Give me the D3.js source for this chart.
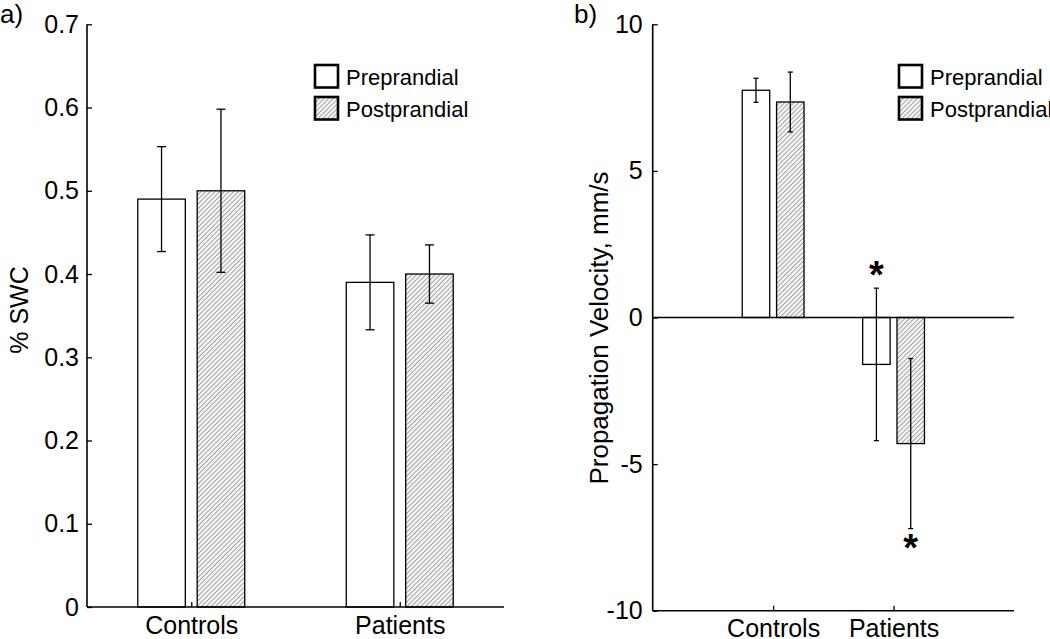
<!DOCTYPE html>
<html><head><meta charset="utf-8">
<script src="https://cdn.jsdelivr.net/npm/d3@7"></script>
<style>
body{margin:0;background:#fff;}
svg{display:block;font-family:"Liberation Sans",Arial,sans-serif;}
</style></head>
<body>
<svg id="chart" width="1050" height="639"></svg>
<script>
const categories = ["Controls", "Patients"];
const seriesNames = ["Preprandial", "Postprandial"];
// Panel a: % SWC
const swcPre = [0.49, 0.39];
const swcPreErr = [0.063, 0.057];
const swcPost = [0.50, 0.40];
const swcPostErr = [0.098, 0.035];
const swcTicks = [0, 0.1, 0.2, 0.3, 0.4, 0.5, 0.6, 0.7];
// Panel b: propagation velocity, mm/s
const velPre = [7.75, -1.6];
const velPreErr = [0.41, 2.6];
const velPost = [7.35, -4.3];
const velPostErr = [1.02, 2.9];
const velTicks = [-10, -5, 0, 5, 10];
const velSignificant = [[false, true], [false, true]]; // [pre, post] per category

const svg = d3.select("#chart");
const defs = svg.append("defs");
const pat = defs.append("pattern").attr("id","hatch").attr("patternUnits","userSpaceOnUse")
  .attr("width",3.3).attr("height",3.3).attr("patternTransform","rotate(45)");
pat.append("rect").attr("width",3.3).attr("height",3.3).attr("fill","#f4f4f4");
pat.append("line").attr("x1",0).attr("y1",0).attr("x2",0).attr("y2",3.3)
  .attr("stroke","#6a6a6a").attr("stroke-width",1.1);

const FS = 25;

function panel(cfg){
  const g = svg.append("g");
  const x = d3.scaleLinear().domain(cfg.xDomain).range(cfg.xRange);
  const y = d3.scaleLinear().domain(cfg.yDomain).range(cfg.yRange);
  const bw = 0.228, off = 0.1425;
  const series = [
    {vals: cfg.pre, errs: cfg.preErr, fill: "#fff", dx: -off},
    {vals: cfg.post, errs: cfg.postErr, fill: "url(#hatch)", dx: off}
  ];
  series.forEach((s, si) => {
    categories.forEach((c, i) => {
      const cx = i + 1 + s.dx;
      const v = s.vals[i];
      g.append("rect")
        .attr("x", x(cx - bw/2)).attr("width", x(cx + bw/2) - x(cx - bw/2))
        .attr("y", Math.min(y(v), y(0))).attr("height", Math.abs(y(v) - y(0)))
        .attr("fill", s.fill).attr("stroke", "#000").attr("stroke-width", 1.3);
    });
  });
  if (cfg.zeroLine) {
    g.append("line").attr("x1", cfg.xRange[0]).attr("x2", cfg.xRange[1])
      .attr("y1", y(0)).attr("y2", y(0)).attr("stroke","#000").attr("stroke-width",1.3);
  }
  series.forEach((s, si) => {
    categories.forEach((c, i) => {
      const cx = x(i + 1 + s.dx);
      const v = s.vals[i], e = s.errs[i];
      const eg = g.append("g").attr("stroke","#000").attr("stroke-width",1.3);
      eg.append("line").attr("x1",cx).attr("x2",cx).attr("y1",y(v+e)).attr("y2",y(v-e));
      [v+e, v-e].forEach(t => eg.append("line").attr("x1",cx-cfg.cap).attr("x2",cx+cfg.cap)
        .attr("y1",y(t)).attr("y2",y(t)));
      if (cfg.sig && cfg.sig[si][i]) {
        const up = si === 0;
        const ty = up ? y(v+e) - 17 : y(v-e) + 15;
        g.append("text").attr("x", cx).attr("y", ty + 17)
          .attr("text-anchor","middle").attr("font-size",38).attr("font-weight","bold")
          .text("*");
      }
    });
  });
  const yAxis = d3.axisLeft(y).tickValues(cfg.yTicks).tickSize(-5).tickPadding(cfg.yPad)
    .tickFormat(cfg.yFmt);
  const ya = g.append("g").attr("transform",`translate(${cfg.xRange[0]},0)`).call(yAxis);
  const xAxis = d3.axisBottom(x).tickValues([1,2]).tickSize(-5).tickPadding(9)
    .tickFormat((d,i)=>categories[i]);
  const xa = g.append("g").attr("transform",`translate(0,${cfg.yRange[0]})`).call(xAxis);
  [ya, xa].forEach(a => {
    a.select(".domain").attr("stroke","#000").attr("stroke-width",1.6);
    a.selectAll(".tick line").attr("stroke","#000").attr("stroke-width",1.3);
    a.selectAll("text").attr("font-size",FS).attr("font-family","Liberation Sans, Arial, sans-serif").attr("fill","#000");
  });
  ya.select(".domain").attr("d", `M0,${cfg.yRange[0]}V${cfg.yRange[1]}`);
  xa.select(".domain").attr("d", `M${cfg.xRange[0]},0H${cfg.xRange[1]}`);
  xa.selectAll("text").attr("dy","0.71em");
  g.append("text").attr("transform",`translate(${cfg.ylabX},${cfg.ylabY}) rotate(-90)`)
    .attr("text-anchor","middle").attr("font-size",cfg.ylabFS).text(cfg.ylabel);
  g.append("text").attr("x",cfg.letterX).attr("y",23).attr("font-size",26).text(cfg.letter);
  const lg = g.append("g").attr("transform",`translate(${cfg.legX},65)`);
  seriesNames.forEach((n,i) => {
    lg.append("rect").attr("x",0).attr("y",i*32).attr("width",23).attr("height",22.5)
      .attr("fill", i===0 ? "#fff" : "url(#hatch)").attr("stroke","#000").attr("stroke-width",2.6);
    lg.append("text").attr("x",31).attr("y",i*32+19.5).attr("font-size",22).text(n);
  });
}

panel({
  xDomain:[0.5,2.5], xRange:[87,504], yDomain:[0,0.7], yRange:[607,24.3],
  pre: swcPre, preErr: swcPreErr, post: swcPost, postErr: swcPostErr,
  yTicks: swcTicks, yFmt: d => d === 0 ? "0" : d3.format(".1f")(d), cap: 4.5, yPad: 8,
  ylabel: "% SWC", ylabFS: 25, ylabX: 28, ylabY: 310, letter: "a)", letterX: 0, legX: 315
});
panel({
  xDomain:[0,3], xRange:[652.7,1014], yDomain:[-10,10], yRange:[610.7,24.3],
  pre: velPre, preErr: velPreErr, post: velPost, postErr: velPostErr,
  yTicks: velTicks, yFmt: d => String(d).replace("\u2212","-"), cap: 2.5, yPad: 10, zeroLine: true, sig: velSignificant,
  ylabel: "Propagation Velocity, mm/s", ylabFS: 26, ylabX: 608, ylabY: 328, letter: "b)", letterX: 574, legX: 899
});
</script>
</body></html>
